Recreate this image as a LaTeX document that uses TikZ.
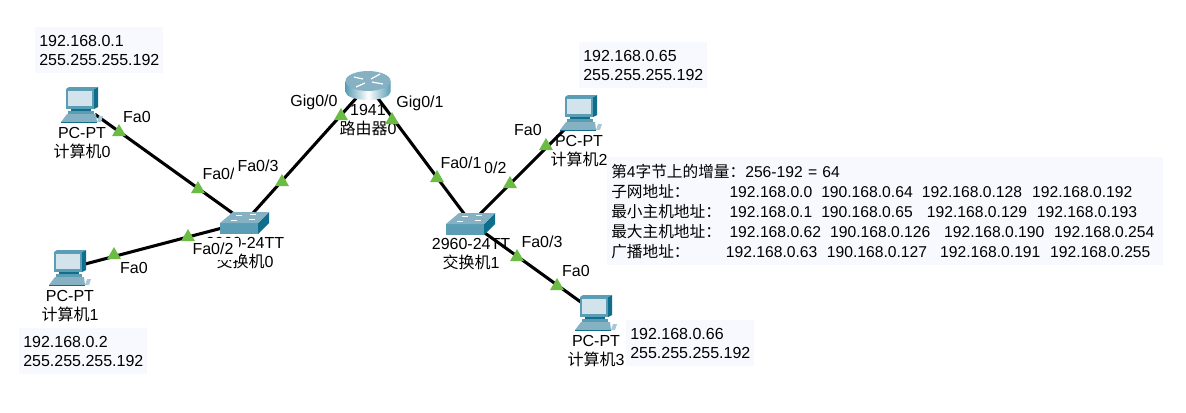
\documentclass[tikz,border=0pt]{standalone}
\usepackage{fontspec}
\setmainfont{Liberation Sans}
\newfontfamily\cjk{Noto Sans CJK SC}
\usetikzlibrary{positioning,shapes.geometric}
\definecolor{tealfront}{HTML}{5A9DB5}
\definecolor{tealdark}{HTML}{0E6E8C}
\definecolor{tealtop}{HTML}{85B1C2}
\definecolor{tealscreen}{HTML}{D3E3EB}
\definecolor{portgreen}{HTML}{6CBB45}
\definecolor{notefill}{HTML}{F8F9FF}
\newcommand{\ipcell}[2]{\makebox[#1pt][l]{#2}}
\tikzset{
  pcicon/.pic={
    \fill[tealdark] (12,-16) -- (16,-18) -- (16,2) -- (12,4) -- cycle;
    \fill[tealfront] (-16,-16) -- (-13,-18) -- (16,-18) -- (12,-16) -- cycle;
    \fill[tealfront] (-16,-16) rectangle (12,4);
    \fill[tealscreen] (-14,-14) rectangle (10,1);
    \fill[tealdark] (-11,4) rectangle (9,6);
    \fill[tealfront] (-14,6) rectangle (12,9);
    \fill[tealtop] (-21,17) -- (-15,9) -- (14,9) -- (15,17) -- cycle;
    \draw[tealdark, line width=0.5pt] (-21,17) -- (15,17);
    \fill[tealtop!70] (17,11) -- (21,11) -- (19,17) -- (15,17) -- cycle;
  },
  swicon/.pic={
    \fill[tealfront] (-25,1) rectangle (13,12);
    \fill[tealdark] (13,1) -- (24,-10) -- (24,1) -- (13,12) -- cycle;
    \fill[tealtop] (-25,1) -- (-12,-10) -- (24,-10) -- (13,1) -- cycle;
    \draw[white, line width=0.6pt] (-9,-7) -- (-3,-7) (5,-8) -- (11,-8) (-14,-2) -- (-8,-2) (4,-3) -- (10,-3);
  },
  routericon/.pic={
    \path[left color=tealfront, right color=tealfront, middle color=white]
      (-22.5,-4) -- (-22.5,7) arc[start angle=180, end angle=360, x radius=16.9pt, y radius=6pt] -- (22.5,-4) -- cycle;
    \fill[tealtop] (0,-4) ellipse[x radius=16.9pt, y radius=7.5pt];
    \draw[white, line width=0.9pt] (-14,-8) -- (-5,-6) (12,-11) -- (3,-6) (-12,2) -- (-3,-2) (15,-1) -- (4,-3);
  },
  pcbox/.style={minimum width=19.5pt, minimum height=13.5pt, inner sep=0pt},
  swbox/.style={minimum width=22.5pt, minimum height=12pt, inner sep=0pt},
  routerbox/.style={minimum width=25.5pt, minimum height=19.5pt, inner sep=0pt},
  devlabel/.style={align=center, inner sep=0pt, font=\fontsize{12}{14.25}\selectfont},
  portlabel/.style={fill=white, inner xsep=1.5pt, inner ysep=1pt, font=\fontsize{12}{14.25}\selectfont},
  portmark/.style={regular polygon, regular polygon sides=3, fill=portgreen, inner sep=0pt, minimum size=12pt},
  link/.style={line width=2.3pt},
  ipbox/.style={fill=notefill, anchor=north west, align=left, text width=90pt, inner xsep=3pt, inner ysep=0pt, minimum height=34.5pt, font=\fontsize{12}{14.25}\selectfont},
  notebox/.style={fill=notefill, anchor=north west, align=left, text width=411pt, inner xsep=3pt, inner ysep=0pt, minimum height=81pt, font=\fontsize{11.75}{15}\selectfont}
}

\begin{document}
\begin{tikzpicture}[x=0.75pt, y=-0.75pt]
\useasboundingbox (0,0) rectangle (1186,412);
\fill[white] (0,0) rectangle (1186,412);
% devices
\node[pcbox] (pc0) at (82,105) {};
\node[pcbox] (pc1) at (70,268) {};
\node[pcbox] (pc2) at (581,113) {};
\node[pcbox] (pc3) at (596,313) {};
\node[swbox] (sw0) at (245,222) {};
\node[swbox] (sw1) at (471,223) {};
\node[routerbox] (router0) at (368,85) {};
\node[devlabel, below=9.75pt of pc0] (pc0label) {PC-PT\\{\cjk 计算机}0};
\node[devlabel, below=9.75pt of pc1] (pc1label) {PC-PT\\{\cjk 计算机}1};
\node[devlabel, below=9.75pt of pc2, xshift=-1.5pt] (pc2label) {PC-PT\\{\cjk 计算机}2};
\node[devlabel, below=9.75pt of pc3] (pc3label) {PC-PT\\{\cjk 计算机}3};
\node[devlabel, below=5.25pt of sw0] (sw0label) {2960-24TT\\{\cjk 交换机}0};
\node[devlabel, below=5.25pt of sw1] (sw1label) {2960-24TT\\{\cjk 交换机}1};
\node[devlabel, below=4.5pt of router0] (router0label) {1941\\{\cjk 路由器}0};
% links
\draw[link] (pc0) -- (sw0);
\draw[link] (pc1) -- (sw0);
\draw[link] (router0) -- (sw0);
\draw[link] (router0) -- (sw1);
\draw[link] (pc2) -- (sw1);
\draw[link] (pc3) -- (sw1);
\pic at (pc0) {pcicon};
\pic at (pc1) {pcicon};
\pic at (pc2) {pcicon};
\pic at (pc3) {pcicon};
\pic at (sw0) {swicon};
\pic at (sw1) {swicon};
\pic at (router0) {routericon};
% port labels
\node[portlabel] (pc0port) at (137,117) {Fa0};
\node[portlabel] (pc1port) at (134,268) {Fa0};
\node[portlabel] (pc2port) at (528,130) {Fa0};
\node[portlabel] (pc3port) at (576,271) {Fa0};
\node[portlabel] (sw0p1) at (223,174) {Fa0/1};
\node[portlabel, inner xsep=3pt, inner ysep=6pt] (sw0p3) at (258,166) {Fa0/3};
\node[portlabel, inner ysep=3.5pt, inner xsep=4pt] (sw0p2) at (213,249) {Fa0/2};
\node[portlabel] (sw1p2) at (486,168) {Fa0/2};
\node[portlabel, inner xsep=3pt, inner ysep=5pt] (sw1p1) at (461,163) {Fa0/1};
\node[portlabel] (sw1p3) at (542,242) {Fa0/3};
\node[portlabel] (routerp0) at (314,102) {Gig0/0};
\node[portlabel] (routerp1) at (420,103) {Gig0/1};
% port marks
\node[portmark] (mark0) at (119,132) {};
\node[portmark] (mark1) at (198,189) {};
\node[portmark] (mark2) at (282,182) {};
\node[portmark] (mark3) at (114,255) {};
\node[portmark] (mark4) at (188,237) {};
\node[portmark] (mark5) at (341,116) {};
\node[portmark] (mark6) at (392,120) {};
\node[portmark] (mark7) at (437,178) {};
\node[portmark] (mark8) at (510,184) {};
\node[portmark] (mark9) at (546,146) {};
\node[portmark] (mark10) at (517,257) {};
\node[portmark] (mark11) at (557,286) {};
% address notes
\node[ipbox] (ip0) at (35,27) {192.168.0.1\\255.255.255.192};
\node[ipbox] (ip1) at (19,328) {192.168.0.2\\255.255.255.192};
\node[ipbox] (ip2) at (579,42) {192.168.0.65\\255.255.255.192};
\node[ipbox] (ip3) at (626,320) {192.168.0.66\\255.255.255.192};
\node[notebox] (subnets) at (607,157) {%
{\cjk 第}4{\cjk 字节上的增量：}256-192 = 64\\
\ipcell{88.7}{\cjk 子网地址：}\ipcell{68.8}{192.168.0.0}\ipcell{75.5}{190.168.0.64}\ipcell{82.7}{192.168.0.128}192.168.0.192\\
\ipcell{88.7}{\cjk 最小主机地址：}\ipcell{68.8}{192.168.0.1}\ipcell{79.3}{190.168.0.65}\ipcell{82.5}{192.168.0.129}192.168.0.193\\
\ipcell{88.7}{\cjk 最大主机地址：}\ipcell{75.5}{192.168.0.62}\ipcell{85.5}{190.168.0.126}\ipcell{82.5}{192.168.0.190}192.168.0.254\\
\ipcell{86}{\cjk 广播地址：}\ipcell{75.75}{192.168.0.63}\ipcell{85}{190.168.0.127}\ipcell{82.5}{192.168.0.191}192.168.0.255};
\end{tikzpicture}
\end{document}
